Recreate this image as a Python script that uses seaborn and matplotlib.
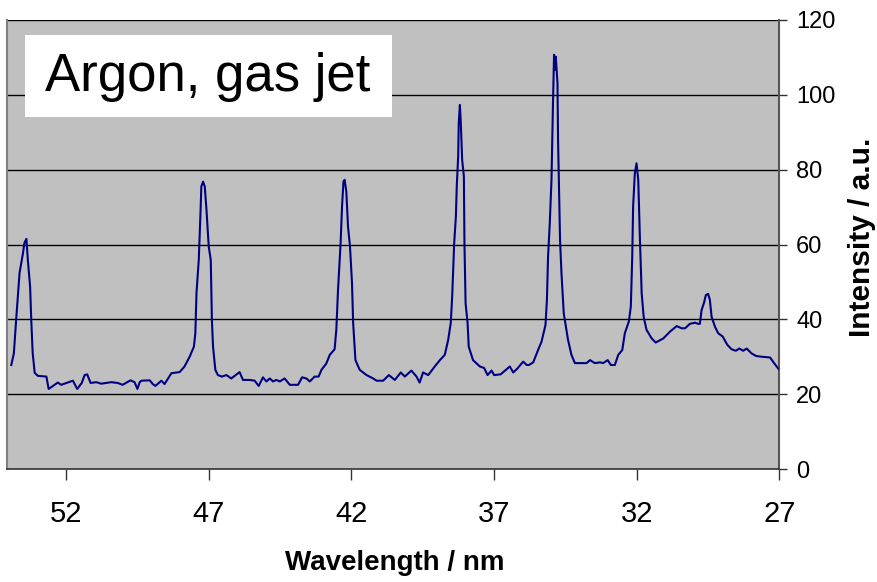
import matplotlib
matplotlib.use("Agg")
import matplotlib.pyplot as plt
from matplotlib.patches import Rectangle
import seaborn as sns
import pandas as pd

# ---- data ----
wavelength_nm = [
    53.92, 53.83, 53.75, 53.63, 53.51, 53.46, 53.39, 53.34, 53.26, 53.22,
    53.17, 53.10, 52.99, 52.69, 52.61, 52.29, 52.17, 51.76, 51.61, 51.45,
    51.35, 51.26, 51.14, 50.94, 50.77, 50.42, 50.19, 50.02, 49.74, 49.60,
    49.50, 49.42,
    49.36, 49.07, 48.96, 48.87, 48.66, 48.55, 48.31, 48.02, 47.85, 47.67,
    47.52, 47.47, 47.43, 47.35, 47.29, 47.26, 47.20, 47.14, 47.08, 47.00,
    46.93, 46.89, 46.85, 46.77, 46.68, 46.54, 46.38, 46.21, 45.92, 45.80,
    45.57, 45.39, 45.25, 45.10, 44.98, 44.86,
    44.75, 44.63, 44.51, 44.34, 44.16, 43.87, 43.73, 43.58, 43.46, 43.29,
    43.15, 43.05, 42.88, 42.76, 42.59, 42.53, 42.47, 42.38, 42.33, 42.28,
    42.24, 42.18, 42.12, 42.05, 41.98, 41.94, 41.86, 41.71, 41.47, 41.24,
    41.12, 40.89, 40.69, 40.48,
    40.27, 40.13, 39.90, 39.72, 39.61, 39.49, 39.31, 39.08, 38.90, 38.73,
    38.61, 38.52, 38.47, 38.40, 38.34, 38.31, 38.26, 38.24, 38.20, 38.17,
    38.12, 38.06, 38.04, 38.00, 37.93, 37.89, 37.74, 37.50, 37.35, 37.23,
    37.09, 37.00, 36.77, 36.45, 36.33, 36.18, 35.98, 35.86,
    35.78, 35.63, 35.46, 35.34, 35.20, 35.15, 35.11, 35.05, 34.99, 34.94,
    34.90, 34.87, 34.84, 34.78, 34.76, 34.69, 34.64, 34.56, 34.41, 34.29,
    34.17, 33.76, 33.64, 33.47, 33.29, 33.18, 33.02, 32.91, 32.77, 32.65,
    32.51, 32.42, 32.28, 32.21, 32.16, 32.13, 32.07, 32.01, 31.95, 31.89,
    31.83, 31.76, 31.66, 31.48,
    31.34, 31.07, 30.84, 30.60, 30.43, 30.31, 30.14, 29.96, 29.85, 29.79,
    29.73, 29.65, 29.58, 29.50, 29.44, 29.38, 29.26, 29.15, 28.99, 28.83,
    28.68, 28.53, 28.41, 28.27, 28.15, 27.98, 27.82, 27.62, 27.33, 27.19,
    27.04, 27.00,
]

intensity = [
    27.8, 30.9, 39.8, 52.4, 57.7, 60.4, 61.5, 55.9, 48.7, 39.8,
    31.0, 25.7, 24.9, 24.7, 21.4, 23.1, 22.5, 23.6, 21.4, 23.0,
    25.1, 25.3, 23.0, 23.2, 22.8, 23.2, 23.0, 22.5, 23.7, 23.2,
    21.4, 23.2,
    23.6, 23.7, 22.7, 22.2, 23.6, 22.7, 25.6, 25.9, 27.4, 30.0,
    32.7, 36.3, 47.0, 55.9, 68.4, 75.5, 76.8, 75.5, 69.3, 59.4,
    55.9, 39.8, 32.7, 26.5, 25.1, 24.7, 25.1, 24.2, 25.9, 23.8,
    23.8, 23.6, 22.2, 24.5, 23.4, 24.2,
    23.4, 23.8, 23.4, 24.2, 22.5, 22.5, 24.5, 24.2, 23.4, 24.7,
    24.7, 26.5, 28.2, 30.5, 32.0, 37.2, 47.9, 60.3, 70.1, 76.8,
    77.3, 74.2, 64.8, 59.4, 49.6, 39.0, 29.1, 26.5, 25.1, 24.2,
    23.6, 23.6, 25.1, 23.8,
    25.8, 24.7, 26.3, 24.7, 23.1, 25.8, 25.1, 27.4, 29.1, 30.5,
    34.5, 39.0, 46.1, 60.3, 67.5, 75.5, 83.5, 92.4, 97.3, 92.9,
    82.6, 78.2, 60.3, 44.3, 39.0, 32.7, 29.1, 27.4, 27.0, 25.1,
    26.3, 25.1, 25.3, 27.4, 25.8, 26.9, 28.7, 27.8,
    27.8, 28.5, 31.8, 34.0, 38.5, 45.2, 56.8, 65.7, 77.3, 96.9,
    110.7, 106.7, 110.2, 103.1, 88.0, 61.2, 52.3, 41.6, 34.5, 30.5,
    28.3, 28.3, 29.1, 28.3, 28.5, 28.3, 29.1, 27.8, 27.8, 30.5,
    31.8, 36.3, 39.4, 43.4, 56.8, 70.1, 79.0, 81.7, 77.3, 61.2,
    47.0, 40.7, 37.2, 34.9,
    33.8, 34.9, 36.7, 38.2, 37.6, 37.6, 38.8, 39.1, 38.8, 38.8,
    42.5, 44.3, 46.5, 46.8, 45.2, 40.7, 38.0, 36.3, 35.4, 33.2,
    32.0, 31.6, 32.2, 31.6, 32.2, 30.9, 30.2, 30.0, 29.8, 28.3,
    26.8, 26.6,
]

x_ticks = [52, 47, 42, 37, 32, 27]
y_ticks = [0, 20, 40, 60, 80, 100, 120]
title_text = "Argon, gas jet"
x_label = "Wavelength / nm"
y_label = "Intensity / a.u."

df = pd.DataFrame({"wavelength": wavelength_nm, "intensity": intensity})

plt.rcParams["font.family"] = ["Liberation Sans", "DejaVu Sans"]

fig = plt.figure(figsize=(8.78, 5.82), dpi=100)
fig.patch.set_facecolor("white")
W, H = 878, 582
left, right, top, bottom = 7, 779.5, 20, 469
ax = fig.add_axes([left / W, 1 - bottom / H, (right - left) / W, (bottom - top) / H])
ax.set_facecolor("#C0C0C0")

sns.lineplot(data=df, x="wavelength", y="intensity", ax=ax, sort=False,
             estimator=None, color="#000080", linewidth=1.5, zorder=3)

ax.set_xlim(54.07, 27)
ax.set_ylim(0, 120)
ax.set_xticks(x_ticks)
ax.set_xticklabels([str(t) for t in x_ticks])
ax.set_yticks(y_ticks)
ax.yaxis.tick_right()
ax.yaxis.set_label_position("right")

ax.grid(False)
for yv in y_ticks[1:]:
    ax.axhline(yv, color="black", linewidth=1.0, zorder=1)

ax.tick_params(axis="x", direction="out", length=8, width=1, color="#333333",
               labelsize=21, pad=14)
ax.tick_params(axis="y", direction="out", length=6, width=1, color="#333333",
               labelsize=17, pad=6, left=False, right=True)

ax.spines["top"].set_visible(False)
ax.spines["left"].set_color("#808080")
ax.spines["left"].set_linewidth(1.5)
ax.spines["right"].set_color("#555555")
ax.spines["right"].set_linewidth(1.5)
ax.spines["bottom"].set_color("#333333")
ax.spines["bottom"].set_linewidth(1.2)

ax.set_xlabel(x_label, fontsize=20, fontweight="bold")
ax.set_ylabel(y_label, fontsize=21.5, fontweight="bold", rotation=90)
ax.xaxis.set_label_coords((395 - left) / (right - left), (bottom - 563) / (bottom - top))
ax.xaxis.label.set_va("center")
ax.yaxis.set_label_coords((862 - left) / (right - left), (bottom - 237) / (bottom - top))
ax.yaxis.label.set_va("center")
ax.yaxis.label.set_ha("center")

# white title box
fig.patches.append(Rectangle((25 / W, 1 - 117 / H), (392 - 25) / W, (117 - 35) / H,
                             transform=fig.transFigure, facecolor="white",
                             edgecolor="none", zorder=5))
fig.text(45 / W, 1 - 77 / H, title_text, fontsize=38, va="center", ha="left",
         zorder=6)

fig.savefig("out.png", dpi=100)
